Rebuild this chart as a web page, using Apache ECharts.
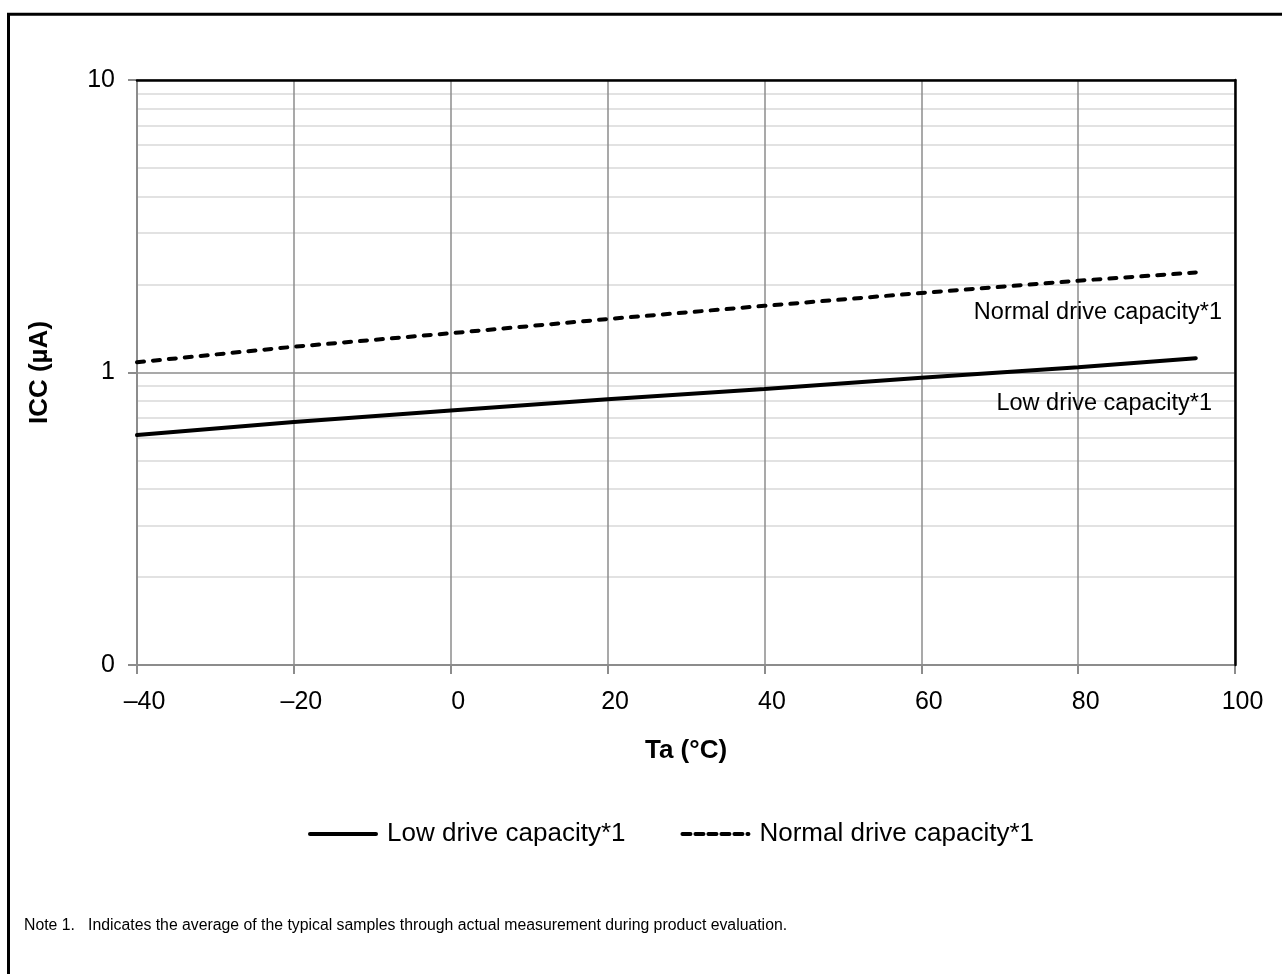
<!DOCTYPE html>
<html>
<head>
<meta charset="utf-8">
<script src="https://cdn.jsdelivr.net/npm/echarts@6/dist/echarts.min.js"></script>
<style>
html,body{margin:0;padding:0;background:#fff;}
#chart{width:1282px;height:974px;}
</style>
</head>
<body>
<div id="chart"></div>
<script>
// ---- data ----
const tempC = [-40, -20, 0, 20, 40, 60, 80, 95];
const lowDrive = [0.611, 0.677, 0.742, 0.810, 0.879, 0.959, 1.042, 1.119];
const normalDrive = [1.084, 1.225, 1.362, 1.523, 1.69, 1.87, 2.06, 2.198];
const seriesNames = ['Low drive capacity*1', 'Normal drive capacity*1'];
const yTickValues = [0.1, 1, 10];
const yTickLabels = ['0', '1', '10'];
const yMinorGrid = [0.2, 0.3, 0.4, 0.5, 0.6, 0.7, 0.8, 0.9, 2, 3, 4, 5, 6, 7, 8, 9];
const xMin = -40, xMax = 100, xStep = 20;
const noteText = 'Note 1.   Indicates the average of the typical samples through actual measurement during product evaluation.';

const FONT = '"Liberation Sans", Arial, sans-serif';
const GRAY = '#8c8c8c';

const chart = echarts.init(document.getElementById('chart'), null, {renderer: 'canvas'});

const pairs = arr => tempC.map((t, i) => [t, arr[i]]);

const option = {
  backgroundColor: '#fff',
  animation: false,
  textStyle: {fontFamily: FONT},
  grid: {left: 137, top: 80, right: 47, bottom: 309, containLabel: false},
  legend: {
    data: [
      {name: seriesNames[0], lineStyle: {color: '#000', width: 4, type: 'solid', cap: 'round'}},
      {name: seriesNames[1], lineStyle: {color: '#000', width: 4, type: [8, 5], cap: 'round'}}
    ],
    left: 303,
    top: 816,
    itemWidth: 66,
    itemHeight: 14,
    itemGap: 55,
    itemStyle: {opacity: 0, borderWidth: 0},
    textStyle: {fontFamily: FONT, fontSize: 26, color: '#000', padding: [0, 0, 0, 6]}
  },
  xAxis: [{
    type: 'value', min: xMin, max: xMax, interval: xStep,
    name: 'Ta (°C)', nameLocation: 'middle', nameGap: 73,
    nameTextStyle: {fontFamily: FONT, fontSize: 26, fontWeight: 'bold', color: '#000'},
    axisLine: {show: true, onZero: false, lineStyle: {color: GRAY, width: 2}},
    axisTick: {show: true, length: 9, lineStyle: {color: GRAY, width: 2}},
    axisLabel: {
      fontFamily: FONT, fontSize: 25, color: '#000', margin: 25,
      padding: [0, 0, 0, 15],
      formatter: v => (v < 0 ? '\u2013' + Math.abs(v) : String(v))
    },
    splitLine: {show: true, lineStyle: {color: GRAY, width: 1.5}}
  }, {
    type: 'value', min: xMin, max: xMax, position: 'top', z: 3,
    axisLine: {show: true, onZero: false, lineStyle: {color: '#000', width: 2.5}},
    axisTick: {show: false}, axisLabel: {show: false}, splitLine: {show: false}
  }],
  yAxis: [{
    type: 'log', logBase: 10, min: yTickValues[0], max: yTickValues[yTickValues.length - 1],
    name: 'ICC (µA)', nameLocation: 'middle', nameGap: 84, nameRotate: 90,
    nameTextStyle: {fontFamily: FONT, fontSize: 26, fontWeight: 'bold', color: '#000'},
    axisLine: {show: true, onZero: false, lineStyle: {color: GRAY, width: 2}},
    axisTick: {show: true, length: 9, lineStyle: {color: GRAY, width: 2}},
    axisLabel: {
      fontFamily: FONT, fontSize: 25, color: '#000', margin: 22,
      padding: [16, 0, 0, 0],
      formatter: v => {
        const i = yTickValues.findIndex(t => Math.abs(t - v) / t < 1e-6);
        return i >= 0 ? yTickLabels[i] : '';
      }
    },
    splitLine: {show: true, lineStyle: {color: GRAY, width: 1.5}}
  }, {
    type: 'log', logBase: 10, min: yTickValues[0], max: yTickValues[yTickValues.length - 1],
    position: 'right', z: 3,
    axisLine: {show: true, onZero: false, lineStyle: {color: '#000', width: 2.5}},
    axisTick: {show: false}, axisLabel: {show: false}, splitLine: {show: false}
  }],
  series: [
    {
      name: '_grid', type: 'line', data: [], silent: true, z: 1,
      markLine: {
        silent: true, symbol: 'none', z: -1, animation: false,
        label: {show: false},
        lineStyle: {color: '#d9d9d9', width: 1.5, type: 'solid'},
        data: yMinorGrid.map(v => ({yAxis: v}))
      }
    },
    {
      name: seriesNames[0], type: 'line', data: pairs(lowDrive), z: 4,
      symbol: 'none', showSymbol: false,
      lineStyle: {color: '#000', width: 4, type: 'solid', cap: 'round'},
      itemStyle: {color: '#000'}
    },
    {
      name: seriesNames[1], type: 'line', data: pairs(normalDrive), z: 4,
      symbol: 'none', showSymbol: false,
      lineStyle: {color: '#000', width: 4, type: [7, 9], cap: 'round'},
      itemStyle: {color: '#000'}
    }
  ],
  graphic: [
    {type: 'rect', silent: true, z: 10,
     shape: {x: 8.5, y: 14.2, width: 1400, height: 1100},
     style: {fill: 'none', stroke: '#000', lineWidth: 3}},
    {type: 'text', silent: true, right: 60, top: 301, z: 10,
     style: {text: seriesNames[1], fontFamily: FONT, fontSize: 23.5, fill: '#000'}},
    {type: 'text', silent: true, right: 70, top: 392, z: 10,
     style: {text: seriesNames[0], fontFamily: FONT, fontSize: 23.5, fill: '#000'}},
    {type: 'text', silent: true, left: 24, top: 918, z: 10,
     style: {text: noteText, fontFamily: FONT, fontSize: 15.8, fill: '#000'}}
  ]
};

chart.setOption(option);
</script>
</body>
</html>
